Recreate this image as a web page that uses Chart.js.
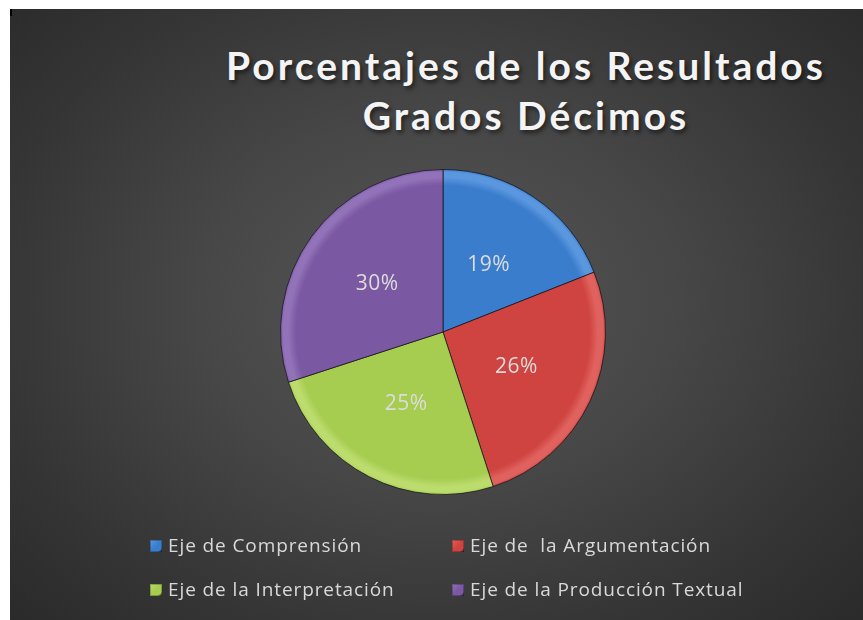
<!DOCTYPE html>
<html>
<head>
<meta charset="utf-8">
<script src="https://cdn.jsdelivr.net/npm/chart.js@4.4.1/dist/chart.umd.min.js"></script>
<style>
  html, body { margin: 0; padding: 0; background: #ffffff; }
  #wrap { position: relative; width: 863px; height: 620px; overflow: hidden; }
  #bg { position: absolute; left: 10px; top: 9px; width: 853px; height: 611px;
        background: radial-gradient(ellipse 70% 75% at 50% 48%, #565656 0%, #474747 40%, #353535 75%, #2a2a2a 100%); }
  #corner { position: absolute; left: 10px; top: 9px; width: 2px; height: 7px; background: #000; }
  #chart { position: absolute; left: 0; top: 0; }
  #title { position: absolute; left: 170px; width: 712px; top: 40px; text-align: center;
           font-family: Lato, "Open Sans", sans-serif; font-weight: 700; font-size: 39px;
           letter-spacing: 3px; line-height: 50px; color: #f4f4f4;
           text-shadow: 2px 3px 4px rgba(0,0,0,0.55); }
  .leg { position: absolute; font-family: "Open Sans", Lato, sans-serif; font-size: 19px;
         letter-spacing: 0.9px; color: #d9d9d9; white-space: pre; line-height: 24px; }
  .mk { position: absolute; width: 12px; height: 12px; }
</style>
</head>
<body>
<div id="wrap">
  <div id="bg"></div>
  <div id="corner"></div>
  <div id="title">Porcentajes de los Resultados<br>Grados Décimos</div>
  <canvas id="chart" width="863" height="620"></canvas>
  <div id="legend"></div>
</div>
<script>
const categories = ["Eje de Comprensión", "Eje de  la Argumentación", "Eje de la Interpretación", "Eje de la Producción Textual"];
const percentages = [19, 26, 25, 30];
const percentLabels = ["19%", "26%", "25%", "30%"];
const sliceColors = ["#3b7dcd", "#cf4440", "#a6cc50", "#7b58a2"];
const rimColors = ["#5b97de", "#e0625e", "#bcdc6e", "#9272b8"];

function sliceFill(ctx) {
  const chart = ctx.chart;
  const a = chart.chartArea;
  if (!a) return sliceColors[ctx.dataIndex];
  const cx = (a.left + a.right) / 2, cy = (a.top + a.bottom) / 2;
  const r = Math.min(a.right - a.left, a.bottom - a.top) / 2;
  const g = chart.ctx.createRadialGradient(cx, cy, 0, cx, cy, r);
  const i = ctx.dataIndex;
  g.addColorStop(0, sliceColors[i]);
  g.addColorStop(0.9, sliceColors[i]);
  g.addColorStop(0.95, rimColors[i]);
  g.addColorStop(0.98, rimColors[i]);
  g.addColorStop(1, sliceColors[i]);
  return g;
}

const labelPlugin = {
  id: 'pctLabels',
  afterDatasetsDraw(chart) {
    const ctx = chart.ctx;
    const meta = chart.getDatasetMeta(0);
    ctx.save();
    ctx.font = '21px "Open Sans", Lato, sans-serif';
    if ('letterSpacing' in ctx) ctx.letterSpacing = '0.5px';
    ctx.fillStyle = '#dcdcdc';
    ctx.textAlign = 'center';
    ctx.textBaseline = 'middle';
    meta.data.forEach((arc, i) => {
      const p = arc.tooltipPosition();
      ctx.fillText(percentLabels[i], p.x, p.y);
    });
    ctx.restore();
  }
};

new Chart(document.getElementById('chart'), {
  type: 'pie',
  data: {
    labels: categories,
    datasets: [{
      data: percentages,
      backgroundColor: sliceFill,
      borderColor: 'rgba(20,20,30,0.75)',
      borderWidth: 1,
      hoverOffset: 0,
      offset: 0
    }]
  },
  options: {
    responsive: false,
    animation: false,
    layout: { padding: { left: 280, right: 257, top: 169, bottom: 125 } },
    plugins: {
      legend: { display: false },
      title: { display: false },
      tooltip: { enabled: false }
    }
  },
  plugins: [labelPlugin]
});

// HTML legend in a 2x2 grid
const legendPos = [[150, 546], [452, 546], [150, 590], [452, 590]];
const legend = document.getElementById('legend');
categories.forEach((c, i) => {
  const [x, y] = legendPos[i];
  const m = document.createElement('div');
  m.className = 'mk';
  m.style.left = x + 'px';
  m.style.top = (y - 6) + 'px';
  m.style.background = `linear-gradient(135deg, ${rimColors[i]} 0%, ${sliceColors[i]} 50%, ${sliceColors[i]} 80%, rgba(0,0,0,0.5) 100%)`;
  m.style.boxShadow = 'inset 0 0 0 1px rgba(0,0,0,0.25)';
  legend.appendChild(m);
  const t = document.createElement('div');
  t.className = 'leg';
  t.style.left = (x + 18) + 'px';
  t.style.top = (y - 13) + 'px';
  t.textContent = c;
  legend.appendChild(t);
});
</script>
</body>
</html>
